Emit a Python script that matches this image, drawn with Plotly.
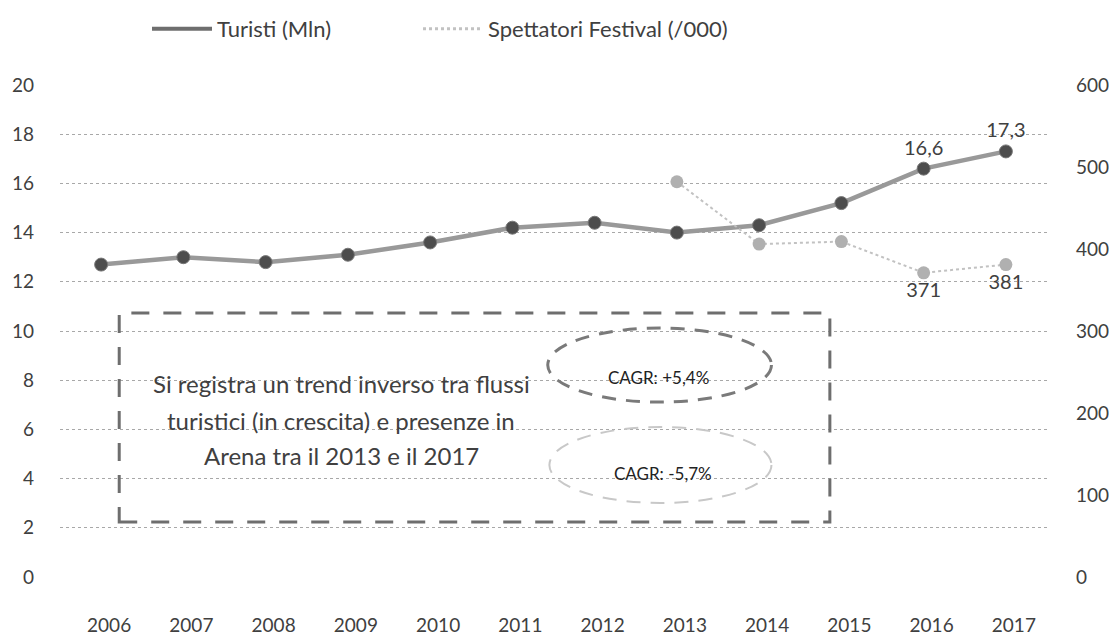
import plotly.graph_objects as go

years = ["2006", "2007", "2008", "2009", "2010", "2011", "2012", "2013", "2014", "2015", "2016", "2017"]
turisti = [12.7, 13.0, 12.8, 13.1, 13.6, 14.2, 14.4, 14.0, 14.3, 15.2, 16.6, 17.3]
spett_years = ["2013", "2014", "2015", "2016", "2017"]
spettatori = [482, 406, 409, 371, 381]
turisti_labels = ["", "", "", "", "", "", "", "", "", "", "16,6", "17,3"]
spett_labels = ["", "", "", "371", "381"]
box_lines = ["Si registra un trend inverso tra flussi",
             "turistici (in crescita) e presenze in",
             "Arena tra il 2013 e il 2017"]

FONT = "Lato, Open Sans, sans-serif"
TXT = "#404040"
C_T_LINE = "#999999"
C_T_MARK = "#4d4d4d"
C_S_LINE = "#c2c2c2"
C_S_MARK = "#b0b0b0"

# the page adds an 8px body margin, so the figure is drawn 8px smaller
W, H = 1109, 628

fig = go.Figure()
fig.add_trace(go.Scatter(
    x=years, y=turisti, name="Turisti (Mln)", mode="lines+markers+text",
    line=dict(color=C_T_LINE, width=4.5), showlegend=False,
    marker=dict(color=C_T_MARK, size=13, line=dict(color="#777", width=1)),
    text=turisti_labels, textposition="top center",
    textfont=dict(size=20, color=TXT, family=FONT),
))
fig.add_trace(go.Scatter(
    x=spett_years, y=spettatori, name="Spettatori Festival (/000)", mode="lines+markers+text",
    yaxis="y2", showlegend=False,
    line=dict(color=C_S_LINE, width=2, dash="dot"),
    marker=dict(color=C_S_MARK, size=13),
    text=spett_labels, textposition="bottom center",
    textfont=dict(size=20, color=TXT, family=FONT),
))
# legend entries (line samples only)
fig.add_trace(go.Scatter(x=[None], y=[None], mode="lines", name="Turisti (Mln)",
                         line=dict(color="#6e6e6e", width=4), legend="legend"))
fig.add_trace(go.Scatter(x=[None], y=[None], mode="lines", name="Spettatori Festival (/000)",
                         line=dict(color=C_S_LINE, width=3, dash="dot"), legend="legend2"))

grid = dict(showgrid=True, gridcolor="#a8a8a8", griddash="dot", gridwidth=1)
leg = dict(orientation="h", xref="container", xanchor="left", y=1, yref="container",
           yanchor="top", font=dict(size=22, color=TXT), itemwidth=60)

fig.update_layout(
    width=W, height=H,
    margin=dict(l=52, r=70, t=77, b=59),
    paper_bgcolor="white", plot_bgcolor="white",
    font=dict(family=FONT, size=19, color=TXT),
    showlegend=True,
    legend=dict(x=139 / W, **leg),
    legend2=dict(x=410 / W, **leg),
    xaxis=dict(type="category", range=[-0.5, 11.5], showgrid=False, zeroline=False, showline=False,
               ticks="", ticklabelstandoff=35, ticklabelshift=8, automargin=False,
               tickfont=dict(size=19, color=TXT)),
    yaxis=dict(range=[0, 20], dtick=2, zeroline=False, showline=False, ticks="", automargin=False,
               ticklabelstandoff=25, tickfont=dict(size=19, color=TXT), **grid),
    yaxis2=dict(range=[0, 600], dtick=100, overlaying="y", side="right", showgrid=False,
                zeroline=False, showline=False, ticks="", ticklabelstandoff=28, automargin=False,
                tickfont=dict(size=19, color=TXT)),
)

# dashed box
fig.add_shape(type="rect", xref="x", yref="y", x0=0.22, x1=8.86, y0=2.24, y1=10.73,
              line=dict(color="#6e6e6e", width=3, dash="18px,14px"), layer="above")
# ellipses
fig.add_shape(type="circle", xref="x", yref="y", x0=5.43, x1=8.15, y0=7.11, y1=10.12,
              line=dict(color="#7a7a7a", width=3, dash="14px,10px"))
fig.add_shape(type="circle", xref="x", yref="y", x0=5.45, x1=8.15, y0=3.01, y1=6.10,
              line=dict(color="#c8c8c8", width=2, dash="14px,10px"))

for line, yv in zip(box_lines, [7.86, 6.38, 4.92]):
    fig.add_annotation(x=2.92, y=yv, xref="x", yref="y", showarrow=False, text=line,
                       font=dict(size=24, color=TXT, family=FONT), align="center")
fig.add_annotation(x=6.78, y=8.13, xref="x", yref="y", showarrow=False,
                   text="CAGR: +5,4%", font=dict(size=17, color="#222", family=FONT))
fig.add_annotation(x=6.83, y=4.19, xref="x", yref="y", showarrow=False,
                   text="CAGR: -5,7%", font=dict(size=17, color="#222", family=FONT))

fig.write_html("out.html")
